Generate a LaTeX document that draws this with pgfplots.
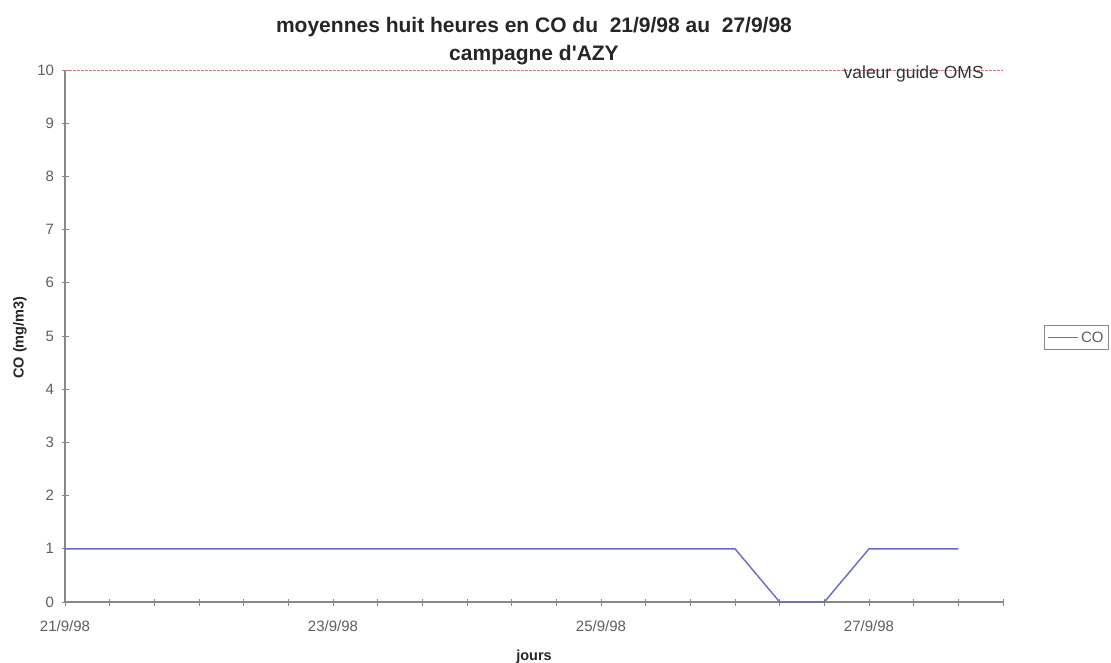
\documentclass[border=0pt]{standalone}
\usepackage{pgfplots}
\pgfplotsset{compat=1.18}
\usepackage{fontspec}
\setmainfont{Liberation Sans}
\definecolor{coline}{RGB}{105,105,200}
\definecolor{axgray}{RGB}{135,135,135}
\definecolor{labgray}{RGB}{95,95,95}
\definecolor{omsred}{RGB}{232,110,125}
\begin{document}
\begin{tikzpicture}
\path[use as bounding box] (0,0) rectangle (1111pt,662pt);
\begin{axis}[
  at={(65pt,60pt)}, anchor=south west,
  scale only axis, width=938pt, height=532pt,
  xmin=0, xmax=21, ymin=0, ymax=10,
  axis x line*=bottom, axis y line*=left,
  axis line style={axgray, line width=1.1pt, -},
  xtick={0,6,12,18},
  xticklabels={21/9/98,23/9/98,25/9/98,27/9/98},
  minor xtick={0,...,21},
  ytick={0,...,10},
  tick align=center,
  major tick length=7pt, minor tick length=7pt,
  tick style={axgray, line width=0.8pt},
  /pgf/number format/assume math mode=true,
  ticklabel style={font=\fontsize{15}{18}\selectfont, text=labgray},
  yticklabel style={xshift=-4pt},
  xticklabel style={yshift=-12pt},
  title={moyennes huit heures en CO du\ \ 21/9/98 au\ \ 27/9/98\\campagne d\textquotesingle AZY},
  title style={align=center, font=\fontsize{21}{28}\selectfont\bfseries, text=black!85, at={(0.5,1.0433)}, anchor=center},
  xlabel={jours},
  xlabel style={font=\fontsize{14.5}{17}\selectfont\bfseries, text=black!85, at={(0.5,-0.103)}, anchor=center},
  ylabel={CO (mg/m3)},
  ylabel style={font=\fontsize{14.5}{17}\selectfont\bfseries, text=black!85, at={(-0.048,0.497)}, anchor=center},
  legend style={at={(1.0784,0.497)}, anchor=center, draw=axgray, fill=white,
    font=\fontsize{15}{18}\selectfont, inner xsep=3pt, inner ysep=4pt},
  legend image code/.code={\draw[#1, line width=1.6pt] (0pt,0pt) -- (30pt,0pt);},
  clip=false,
]
\addplot[omsred, line width=0.7pt, dash pattern=on 2.5pt off 1.5pt, forget plot] coordinates {(0,10) (21,10)};
\node[font=\fontsize{17.5}{20}\selectfont, text=black!80, anchor=center] at (axis cs:19.0,9.93) {valeur guide OMS};
\addplot[coline, line width=1.4pt] coordinates {
(0,1) (1,1) (2,1) (3,1) (4,1) (5,1) (6,1) (7,1) (8,1) (9,1) (10,1) (11,1) (12,1) (13,1) (14,1) (15,1)
(16,0) (17,0) (18,1) (19,1) (20,1)
};
\addlegendentry{\textcolor{labgray}{CO}}
\end{axis}
\end{tikzpicture}
\end{document}
